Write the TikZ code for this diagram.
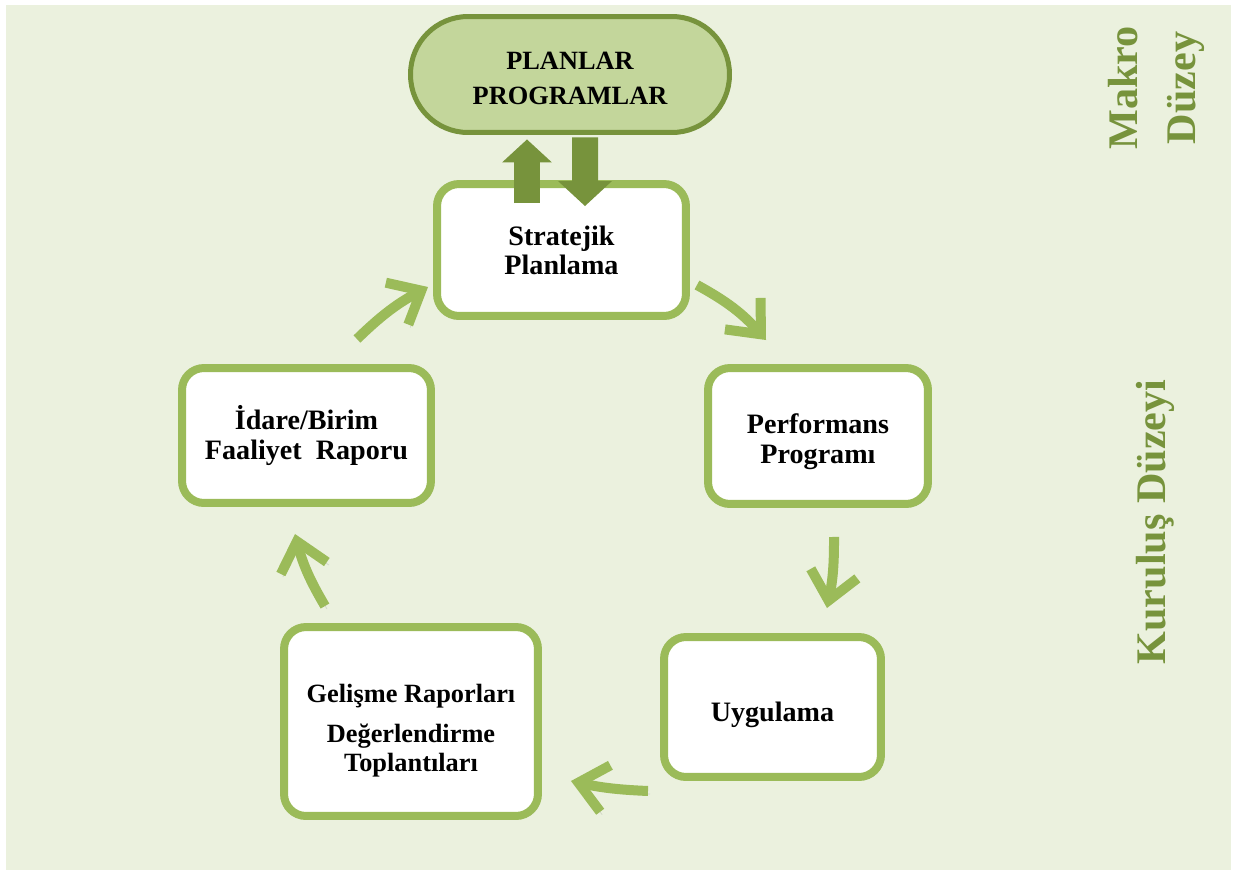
\documentclass[tikz,border=0pt]{standalone}
\usepackage{fontspec}
\setmainfont{Liberation Serif}
\usetikzlibrary{arrows.meta,shadows}

\definecolor{bgGreen}{HTML}{EBF1DE}
\definecolor{darkGreen}{HTML}{77933C}
\definecolor{lightGreen}{HTML}{9BBB59}
\definecolor{planFill}{HTML}{C3D69B}

\tikzset{
  x=0.02cm, y=0.02cm,
  box/.style={draw=lightGreen, line width=0.16cm, fill=white,
       rounded corners=0.44cm, inner sep=0pt, align=center,
       font=\bfseries\fontsize{16}{17}\selectfont,
       drop shadow={opacity=0.18, shadow xshift=0.05cm, shadow yshift=-0.06cm}},
  planbox/.style={draw=darkGreen, line width=0.1cm, fill=planFill,
       rounded corners=1.15cm, inner sep=0pt, align=center,
       font=\bfseries\fontsize{15}{20}\selectfont,
       minimum width=6.38cm, minimum height=2.32cm},
  sidetext/.style={text=darkGreen, font=\bfseries\fontsize{24}{33}\selectfont, rotate=90},
  cyc/.style={draw=lightGreen, line width=0.2cm,
       -{Straight Barb[length=0.55cm, width=0.95cm]},
       preaction={draw=black!60, opacity=0.2, -{Straight Barb[length=0.55cm, width=0.95cm]},
                  transform canvas={shift={(2,-3)}}}},
  blockarrow/.style={draw=darkGreen, line width=0.52cm}
}

\begin{document}
\begin{tikzpicture}
\useasboundingbox (0,0) rectangle (1235,-873);
\fill[bgGreen] (6,-5) rectangle (1231,-870);

\node[planbox] (plan) at (570,-74.5) {\rule{0pt}{14.5pt}PLANLAR\\PROGRAMLAR};

\node[box, minimum width=4.98cm, minimum height=2.64cm,
      font=\bfseries\fontsize{16}{16.5}\selectfont] (strat) at (561.5,-250) {Stratejik\\Planlama};
\node[box, minimum width=4.4cm, minimum height=2.72cm] (perf) at (818,-436) {\rule{0pt}{17.5pt}Performans\\Programı};
\node[box, minimum width=4.34cm, minimum height=2.8cm, text height=20pt] (uyg) at (772.5,-707) {Uygulama};
\node[box, minimum width=5.08cm, minimum height=3.78cm,
      font=\bfseries\fontsize{15}{16.5}\selectfont] (gel) at (411,-721.5) {\rule{0pt}{21pt}Gelişme Raporları\\[6pt] Değerlendirme\\Toplantıları};
\node[box, minimum width=4.98cm, minimum height=2.7cm] (idare) at (306.5,-435.5) {İdare/Birim\\Faaliyet~ Raporu};

\draw[blockarrow, -{Triangle[length=0.46cm, width=1.0cm, line width=0pt]}]
  ([shift={(-34.5,-23)}]strat.north) -- ([shift={(-43,-4.5)}]plan.south);
\draw[blockarrow, -{Triangle[length=0.5cm, width=1.08cm, line width=0pt]}]
  ([shift={(15,-2.5)}]plan.south) -- ([shift={(23.5,-26)}]strat.north);

\draw[cyc] ([shift={(7,-35)}]strat.east) to[bend left=10] ([shift={(-52,24)}]perf.north);
\draw[cyc] ([shift={(16,-29)}]perf.south) to[bend left=6] ([shift={(54.5,25)}]uyg.north);
\draw[cyc] ([shift={(-124.5,-10)}]uyg.south) to[bend left=5] ([shift={(29,-59.5)}]gel.east);
\draw[cyc] ([shift={(-86,17)}]gel.north) to[bend left=8] ([shift={(-11.5,-27)}]idare.south);
\draw[cyc] ([shift={(50.5,25)}]idare.north) to[bend left=8] ([shift={(-5,-37)}]strat.west);

\node[sidetext, align=center] (makro) at (1156,-88) {Makro\\Düzey};
\node[sidetext, anchor=base] (kurulus) at (1165,-522) {Kuruluş Düzeyi};
\end{tikzpicture}
\end{document}
